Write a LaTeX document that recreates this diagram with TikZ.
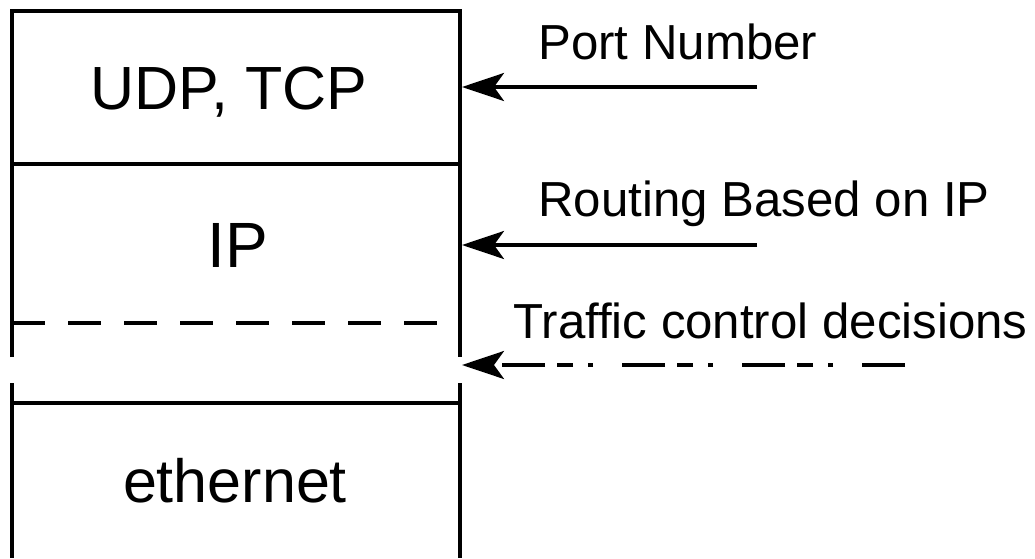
\documentclass[tikz,border=0pt]{standalone}
\usepackage{fontspec}
\setmainfont{Liberation Sans}
\usetikzlibrary{arrows.meta}
\tikzset{
  wall/.style={line width=1.6pt},
  layertext/.style={inner sep=0pt, anchor=base, font=\fontsize{30.5}{36}\selectfont},
  notetext/.style={inner sep=0pt, anchor=base west, font=\fontsize{24.6}{30}\selectfont},
  pointer/.style={line width=1.7pt, -{Stealth[length=21pt, width=14pt, inset=5pt]}},
  dashdot/.style={dash pattern=on 21.5pt off 14.5pt on 2.5pt off 7.5pt on 8pt off 6pt},
  layerdash/.style={line width=1.6pt, dash pattern=on 16.5pt off 11.5pt},
}
\begin{document}
\begin{tikzpicture}[x=0.5pt, y=-0.5pt]
  \useasboundingbox (0,0) rectangle (1035,558);

  % corners and breaks of the protocol stack outline
  \coordinate (tl) at (12,11);
  \coordinate (tr) at (460,11);
  \coordinate (lgapA) at (12,357);
  \coordinate (lgapB) at (12,383);
  \coordinate (rgapA) at (460,357);
  \coordinate (rgapB) at (460,383);
  \coordinate (bl) at (12,558);
  \coordinate (br) at (460,558);
  \coordinate (sep1l) at (12,164);
  \coordinate (sep1r) at (460,164);
  \coordinate (sep2l) at (12,403);
  \coordinate (sep2r) at (460,403);
  \coordinate (dashl) at (12,323);
  \coordinate (dashr) at (437,323);

  % outline of the stack
  \draw[wall] (lgapA) -- (tl) -- (tr) -- (rgapA);
  \draw[wall] (lgapB) -- (bl);
  \draw[wall] (rgapB) -- (br);
  \draw[wall] (sep1l) -- (sep1r);
  \draw[wall] (sep2l) -- (sep2r);
  \draw[layerdash] (dashl) -- (dashr);

  % layer names
  \node[layertext] (udp) at (229,109) {UDP, TCP};
  \node[layertext, font=\fontsize{32}{38}\selectfont] (ip) at (238,267) {IP};
  \node[layertext] (eth) at (235,502) {ethernet};

  % annotations
  \node[notetext] (port) at (538,59) {Port Number};
  \node[notetext] (route) at (538,216) {Routing Based on IP};
  \node[notetext] (traffic) at (513,338) {Traffic control decisions};

  % arrow start points and targets on the stack
  \coordinate (portsrc) at (757,87);
  \coordinate (porttgt) at (462,87);
  \coordinate (routesrc) at (757,245);
  \coordinate (routetgt) at (462,245);
  \coordinate (trafsrc) at (905,365);
  \coordinate (traftgt) at (462,365);

  \draw[pointer] (portsrc) -- (porttgt);
  \draw[pointer] (routesrc) -- (routetgt);
  \draw[pointer, dashdot] (trafsrc) -- (traftgt);
\end{tikzpicture}
\end{document}
